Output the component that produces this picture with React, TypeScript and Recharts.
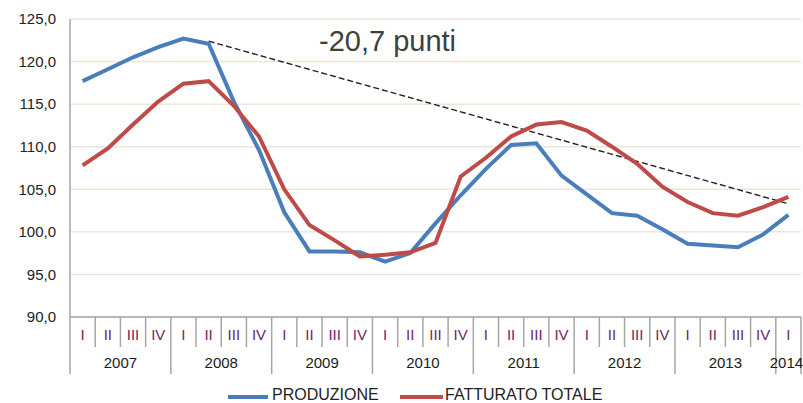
import { LineChart, Line, XAxis, YAxis, CartesianGrid } from "recharts"

const years = ["2007", "2008", "2009", "2010", "2011", "2012", "2013", "2014"]
const quarterNames = ["I", "II", "III", "IV"]

const produzione = [
  117.7, 119.1, 120.5, 121.7, 122.7, 122.1, 115.3, 109.6, 102.3, 97.7, 97.7, 97.6, 96.5, 97.5, 101.0,
  104.3, 107.4, 110.2, 110.4, 106.6, 104.4, 102.2, 101.9, 100.3, 98.6, 98.4, 98.2, 99.7, 102.0,
]
const fatturato = [
  107.8, 109.8, 112.6, 115.3, 117.4, 117.7, 114.8, 111.2, 105.0, 100.8, 99.0, 97.1, 97.3, 97.6, 98.7,
  106.5, 108.7, 111.2, 112.6, 112.9, 111.9, 110.0, 108.0, 105.3, 103.5, 102.2, 101.9, 102.9, 104.1,
]
// dashed trend: from 2008 II to 2014 I
const trend: Record<number, number> = { 5: 122.4, 28: 103.3 }

const yTicks = [90, 95, 100, 105, 110, 115, 120, 125]

const data = produzione.map((p, i) => ({
  year: years[Math.floor(i / 4)],
  q: quarterNames[i % 4],
  produzione: p,
  fatturato: fatturato[i],
  trend: trend[i] ?? null,
}))

const FONT = "'Liberation Sans', Arial, sans-serif"
const PLOT_LEFT = 70
const PLOT_RIGHT = 801
const STEP = (PLOT_RIGHT - PLOT_LEFT) / data.length

function QuarterTick(props: any) {
  const { x, y, payload } = props
  const i = props.index ?? payload.index
  const left = x - STEP / 2
  const yearStart = i % 4 === 0
  const groupLen = Math.min(4, data.length - i)
  const last = i === data.length - 1
  return (
    <g>
      <line x1={left} x2={left} y1={y} y2={y + (yearStart ? 57 : 30)} stroke="#a6a6a6" strokeWidth={1.5} />
      {last && <line x1={x + STEP / 2} x2={x + STEP / 2} y1={y} y2={y + 57} stroke="#a6a6a6" strokeWidth={1.5} />}
      <text x={x} y={y + 19} textAnchor="middle" dominantBaseline="middle" fill="#6e1f63" fontSize={15} fontFamily={FONT}>
        {payload.value}
      </text>
      {yearStart && (
        <text
          x={last ? x - 2 : left + (groupLen * STEP) / 2}
          y={y + 47}
          textAnchor="middle"
          dominantBaseline="middle"
          fill="#1a1a1a"
          fontSize={15}
          fontFamily={FONT}
        >
          {data[i].year}
        </text>
      )}
    </g>
  )
}

export default function App() {
  return (
    <div style={{ position: "absolute", left: 0, top: 0, width: 803, height: 403, overflow: "hidden", background: "#fff", fontFamily: FONT }}>
      <LineChart width={803} height={403} data={data} margin={{ top: 19, right: 2, bottom: 26, left: 0 }}>
        <CartesianGrid vertical={false} stroke="#ebe6da" strokeWidth={1.5} />
        <XAxis
          dataKey="q"
          interval={0}
          tickLine={false}
          tickSize={0}
          tickMargin={0}
          height={60}
          padding={{ left: STEP / 2, right: STEP / 2 }}
          axisLine={{ stroke: "#a6a6a6", strokeWidth: 1.5 }}
          tick={<QuarterTick />}
        />
        <YAxis
          width={70}
          domain={[90, 125]}
          ticks={yTicks}
          interval={0}
          tickLine={false}
          tickMargin={8}
          axisLine={{ stroke: "#a6a6a6", strokeWidth: 1.5 }}
          tick={{ fill: "#222", fontSize: 15, fontFamily: FONT }}
          tickFormatter={(v: number) => v.toFixed(1).replace(".", ",")}
        />
        <Line
          dataKey="trend"
          stroke="#222"
          strokeWidth={1.4}
          strokeDasharray="6 3"
          dot={false}
          connectNulls
          isAnimationActive={false}
        />
        <Line dataKey="produzione" stroke="#4a7ebb" strokeWidth={4} dot={false} isAnimationActive={false} />
        <Line dataKey="fatturato" stroke="#be4b48" strokeWidth={4} dot={false} isAnimationActive={false} />
      </LineChart>

      <div style={{ position: "absolute", left: 319, top: 27, fontSize: 29, lineHeight: "29px", color: "#404040", whiteSpace: "nowrap" }}>
        -20,7 punti
      </div>

      {/* Legend */}
      <div style={{ position: "absolute", left: 228, top: 395, width: 40, height: 4, background: "#4a7ebb" }} />
      <div style={{ position: "absolute", left: 272, top: 387, fontSize: 16, lineHeight: "16px", color: "#222", whiteSpace: "nowrap" }}>
        PRODUZIONE
      </div>
      <div style={{ position: "absolute", left: 400, top: 395, width: 43, height: 4, background: "#be4b48" }} />
      <div style={{ position: "absolute", left: 445, top: 387, fontSize: 16, lineHeight: "16px", color: "#222", whiteSpace: "nowrap" }}>
        FATTURATO TOTALE
      </div>
    </div>
  )
}
